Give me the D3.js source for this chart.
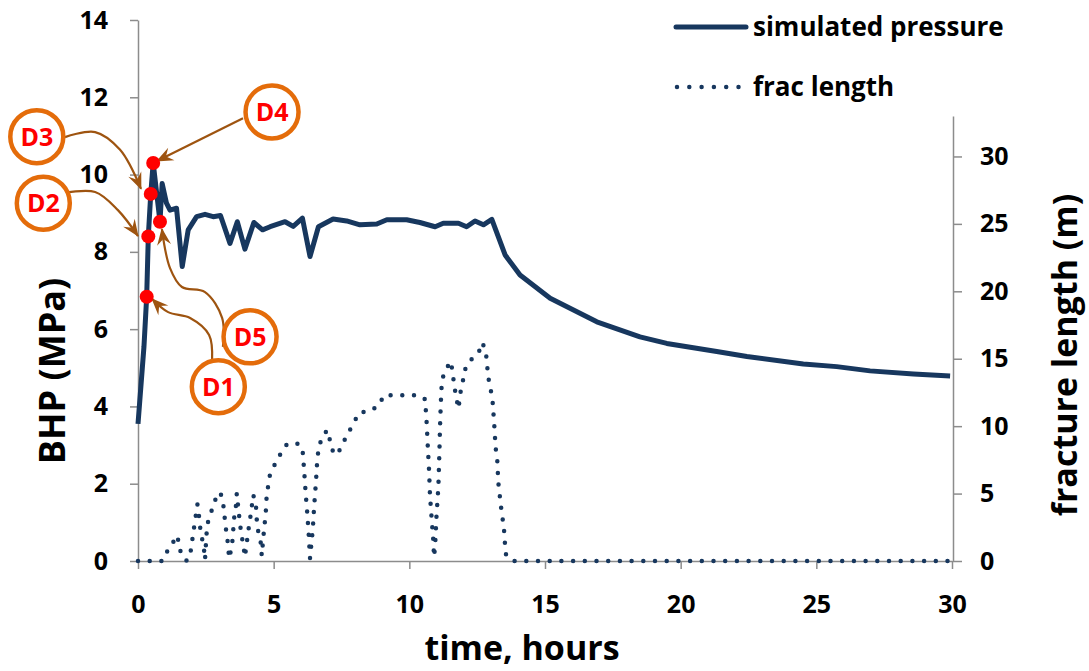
<!DOCTYPE html>
<html>
<head>
<meta charset="utf-8">
<script src="https://cdn.jsdelivr.net/npm/d3@7"></script>
<style>
body { margin: 0; background: #fff; }
text { font-family: "Open Sans", Lato, sans-serif; font-weight: bold; fill: #000; }
</style>
</head>
<body>
<svg id="chart" width="1089" height="671"></svg>
<script>
// simulated bottom-hole pressure (MPa) against time (hours)
const pressureTime = [0, 0.22, 0.32, 0.38, 0.47, 0.56, 0.81, 0.89, 1.05, 1.18, 1.42, 1.63, 1.85, 2.16, 2.47, 2.77, 3.04, 3.39, 3.66, 3.94, 4.27, 4.59, 4.87, 5.42, 5.72, 6.06, 6.34, 6.65, 7.19, 7.69, 8.18, 8.8, 9.17, 9.9, 10.39, 10.95, 11.25, 11.81, 12.11, 12.42, 12.73, 13.04, 13.53, 14.08, 15.19, 16.91, 18.5, 19.49, 21.33, 22.44, 24.52, 25.75, 26.98, 28.58, 29.93]
const pressureValue = [3.55, 5.55, 6.84, 8.4, 9.5, 10.3, 8.78, 9.77, 9.26, 9.08, 9.13, 7.62, 8.57, 8.91, 8.97, 8.91, 8.94, 8.22, 8.78, 8.07, 8.76, 8.57, 8.65, 8.78, 8.66, 8.87, 7.88, 8.65, 8.85, 8.8, 8.7, 8.72, 8.83, 8.83, 8.76, 8.65, 8.74, 8.74, 8.65, 8.8, 8.7, 8.84, 7.92, 7.4, 6.8, 6.19, 5.8, 5.63, 5.42, 5.29, 5.1, 5.03, 4.92, 4.84, 4.79]

// fracture length (m) against time (hours)
const fracTime = [0, 0.9, 1.03, 1.24, 1.4, 1.52, 1.58, 1.8, 1.94, 2.06, 2.19, 2.25, 2.29, 2.35, 2.43, 2.47, 2.51, 2.55, 2.68, 2.81, 3.02, 3.12, 3.17, 3.21, 3.27, 3.33, 3.35, 3.43, 3.48, 3.51, 3.55, 3.61, 3.64, 3.73, 3.8, 3.88, 3.94, 4.07, 4.13, 4.19, 4.25, 4.35, 4.38, 4.43, 4.53, 4.56, 4.64, 4.68, 4.72, 4.74, 4.8, 4.87, 5.08, 5.27, 5.5, 5.93, 6.07, 6.12, 6.18, 6.24, 6.29, 6.34, 6.44, 6.49, 6.56, 6.61, 6.67, 6.81, 6.98, 7.08, 7.2, 7.35, 7.54, 7.75, 7.94, 8.15, 8.53, 8.86, 9.07, 9.5, 9.9, 10.33, 10.58, 10.64, 10.68, 10.73, 10.76, 10.82, 10.88, 10.91, 10.95, 11.0, 11.07, 11.11, 11.13, 11.16, 11.2, 11.34, 11.53, 11.6, 11.65, 11.72, 11.81, 11.9, 11.99, 12.08, 12.26, 12.54, 12.7, 12.83, 12.91, 13.0, 13.07, 13.13, 13.18, 13.24, 13.28, 13.38, 13.44, 13.49, 13.52, 13.56, 13.77, 30]
const fracValue = [0, 0, 0.6, 1.1, 1.9, 1.4, 0.5, 0, 0.7, 2.4, 4.2, 3.3, 2.5, 1.8, 0.9, 0.1, 1.5, 2.7, 3.5, 4.4, 5.1, 4.6, 3.7, 2.9, 1.9, 1.1, 0.2, 0.8, 1.5, 2.3, 3.3, 4.1, 5.0, 3.3, 2.1, 1.2, 0.3, 2.3, 3.1, 4.0, 4.9, 4.0, 3.0, 2.2, 1.3, 0.4, 2.2, 3.0, 3.9, 4.8, 5.6, 6.5, 7.3, 8.0, 8.7, 8.7, 8.1, 6.8, 5.0, 3.5, 2.0, 0.2, 2.3, 4.0, 5.9, 7.6, 8.5, 9.3, 9.7, 8.9, 8.0, 7.9, 8.7, 9.5, 10.2, 11.0, 11.1, 11.5, 12.3, 12.3, 12.3, 12.3, 12.0, 10.2, 8.5, 6.6, 4.9, 3.2, 1.6, 0.3, 1.1, 3.3, 5.5, 8.2, 9.9, 11.7, 13.4, 14.2, 14.8, 13.9, 13.1, 12.2, 11.3, 12.7, 13.5, 14.4, 14.9, 15.4, 16.2, 15.3, 13.6, 12.7, 11.8, 10.1, 8.4, 7.5, 5.8, 4.0, 3.1, 2.3, 1.4, 0.5, 0, 0]

// labelled points D1..D5 on the pressure curve
const markerNames = ["D1", "D2", "D3", "D4", "D5"]
const markerTime = [0.32, 0.38, 0.47, 0.56, 0.81]
const markerValue = [6.84, 8.4, 9.5, 10.3, 8.78]

// callout bubble centres and arrow paths, in (time, MPa)
const bubbleCentre = [[2.96, 4.51], [-3.49, 9.26], [-3.73, 10.98], [4.94, 11.62], [4.13, 5.8]]
const arrowPath = [
  [[2.73, 5.2], [2.62, 5.85], [1.92, 6.29], [1.11, 6.44], [0.52, 6.78]],
  [[-2.76, 9.52], [-1.58, 9.55], [-0.74, 9.08], [0, 8.41]],
  [[-2.69, 10.97], [-1.58, 11.1], [-0.66, 10.64], [0.11, 9.63]],
  [[3.87, 11.46], [0.7, 10.35]],
  [[3.13, 5.54], [3.1, 6.29], [2.47, 6.96], [1.62, 7.09], [1.18, 7.58], [0.88, 8.59]]
]

const xTicks = [0, 5, 10, 15, 20, 25, 30]
const leftTicks = [0, 2, 4, 6, 8, 10, 12, 14]
const rightTicks = [0, 5, 10, 15, 20, 25, 30]

const navy = "#17375E"
const axisGrey = "#8c8c8c"

const svg = d3.select("#chart")

const x = d3.scaleLinear().domain([0, 30]).range([138, 952])
const yL = d3.scaleLinear().domain([0, 14]).range([561, 20])
const yR = d3.scaleLinear().domain([0, 33]).range([561, 116])

// axes
const gx = svg.append("g").attr("transform", `translate(0,${yL(0)})`)
  .call(d3.axisBottom(x).tickValues(xTicks).tickSize(8).tickSizeOuter(0).tickPadding(26))
const gl = svg.append("g").attr("transform", `translate(${x(0)},0)`)
  .call(d3.axisLeft(yL).tickValues(leftTicks).tickSize(8).tickSizeOuter(0).tickPadding(22))
const gr = svg.append("g").attr("transform", `translate(${x(30) + 1},0)`)
  .call(d3.axisRight(yR).tickValues(rightTicks).tickSize(9).tickSizeOuter(0).tickPadding(18))

for (const g of [gx, gl, gr]) {
  g.select(".domain").attr("stroke", axisGrey).attr("stroke-width", 1.5)
  g.selectAll(".tick line").attr("stroke", axisGrey).attr("stroke-width", 1.5)
  g.selectAll("text").attr("font-size", 25).attr("font-family", "'Open Sans', sans-serif").attr("font-weight", "bold").attr("fill", "#000")
}

// axis titles
svg.append("text").attr("x", 522).attr("y", 660).attr("text-anchor", "middle")
  .attr("font-size", 34).text("time, hours")
svg.append("text").attr("transform", "translate(65,371) rotate(-90)").attr("text-anchor", "middle")
  .attr("font-size", 36).text("BHP (MPa)")
svg.append("text").attr("transform", "translate(1077,355) rotate(-90)").attr("text-anchor", "middle")
  .attr("font-size", 34).text("fracture length (m)")

// series
const fracData = fracTime.map((t, i) => ({ t, v: fracValue[i] }))
const presData = pressureTime.map((t, i) => ({ t, v: pressureValue[i] }))

svg.append("path").datum(fracData)
  .attr("fill", "none").attr("stroke", navy).attr("stroke-width", 4.5)
  .attr("stroke-linecap", "round").attr("stroke-dasharray", "0 11.7")
  .attr("d", d3.line().x(d => x(d.t)).y(d => yR(d.v)))

svg.append("path").datum(presData)
  .attr("fill", "none").attr("stroke", navy).attr("stroke-width", 5)
  .attr("stroke-linejoin", "round")
  .attr("d", d3.line().x(d => x(d.t)).y(d => yL(d.v)))

// arrows
const brown = "#9E5410"
svg.append("defs").append("marker")
  .attr("id", "head").attr("viewBox", "-17 -8 19 16")
  .attr("markerWidth", 19).attr("markerHeight", 16)
  .attr("markerUnits", "userSpaceOnUse").attr("orient", "auto")
  .append("path").attr("d", "M1,0 L-16,-7 L-10,0 L-16,7 Z").attr("fill", brown)

const curve = d3.line().x(d => x(d[0])).y(d => yL(d[1])).curve(d3.curveCatmullRom.alpha(0.5))
svg.append("g").selectAll("path").data(arrowPath).join("path")
  .attr("fill", "none").attr("stroke", brown).attr("stroke-width", 2.2)
  .attr("marker-end", "url(#head)")
  .attr("d", d => curve(d))

// red markers
svg.append("g").selectAll("circle").data(markerTime).join("circle")
  .attr("cx", d => x(d)).attr("cy", (d, i) => yL(markerValue[i]))
  .attr("r", 7).attr("fill", "#FF0000")

// callout bubbles
const bubble = svg.append("g").selectAll("g").data(markerNames).join("g")
  .attr("transform", (d, i) => `translate(${x(bubbleCentre[i][0])},${yL(bubbleCentre[i][1])})`)
bubble.append("circle").attr("r", 26.5).attr("fill", "#fff")
  .attr("stroke", "#E46C0A").attr("stroke-width", 4.5)
bubble.append("text").attr("text-anchor", "middle").attr("dy", "0.36em")
  .attr("font-size", 25).style("fill", "#FF0000").text(d => d)

// legend
const legend = svg.append("g")
legend.append("line").attr("x1", 676).attr("x2", 746).attr("y1", 27).attr("y2", 27)
  .attr("stroke", navy).attr("stroke-width", 5).attr("stroke-linecap", "round")
legend.append("line").attr("x1", 677).attr("x2", 740).attr("y1", 87).attr("y2", 87)
  .attr("stroke", navy).attr("stroke-width", 4.5).attr("stroke-linecap", "round")
  .attr("stroke-dasharray", "0 12.3")
legend.append("text").attr("x", 753).attr("y", 36).attr("font-size", 26).text("simulated pressure")
legend.append("text").attr("x", 753).attr("y", 96).attr("font-size", 26).text("frac length")
</script>
</body>
</html>
